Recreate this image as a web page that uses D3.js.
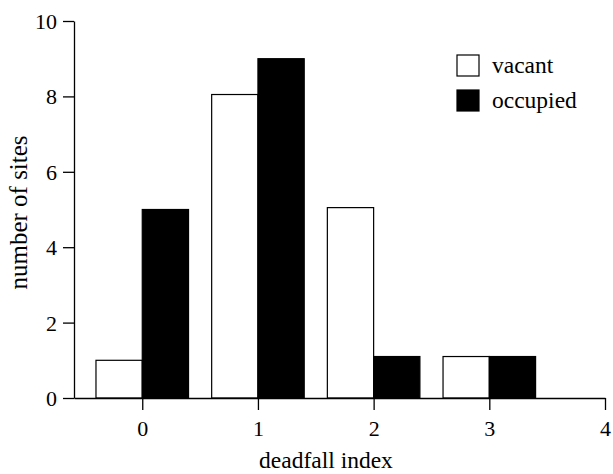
<!DOCTYPE html>
<html><head><meta charset="utf-8">
<script src="https://cdn.jsdelivr.net/npm/d3@7"></script>
<style>body{margin:0;background:#fff}svg{display:block}</style>
</head><body>
<script>
const categories = [0, 1, 2, 3];
const vacant = [1, 8.05, 5.05, 1.1];
const occupied = [5, 9, 1.1, 1.1];
const seriesNames = ["vacant", "occupied"];
const seriesFills = ["#fff", "#000"];
const yTicks = [0, 2, 4, 6, 8, 10];
const xTicks = [0, 1, 2, 3, 4];

const FONT = "'Liberation Serif', 'Times New Roman', Times, serif";
const W = 613, H = 474;
const svg = d3.select("body").append("svg").attr("width", W).attr("height", H);
const x = d3.scaleLinear().domain([-0.59, 4]).range([74, 605]);
const y = d3.scaleLinear().domain([0, 10]).range([398, 21]);
const bw = 0.4;

const series = [vacant, occupied];
series.forEach((vals, si) => {
  svg.append("g").selectAll("rect").data(categories).join("rect")
    .attr("x", (d) => si === 0 ? x(d - bw) : x(d))
    .attr("width", x(bw) - x(0))
    .attr("y", (d, i) => y(vals[i]))
    .attr("height", (d, i) => y(0) - y(vals[i]))
    .attr("fill", seriesFills[si]).attr("stroke", "#000").attr("stroke-width", 1.2);
});

const fs = 22;
const xa = svg.append("g").attr("transform", `translate(0,${y(0)})`)
  .call(d3.axisBottom(x).tickValues(xTicks).tickFormat(d3.format("d")).tickSize(12).tickSizeOuter(0).tickPadding(10));
const ya = svg.append("g").attr("transform", `translate(${x(-0.59)},0)`)
  .call(d3.axisLeft(y).tickValues(yTicks).tickFormat(d3.format("d")).tickSize(11).tickSizeOuter(0).tickPadding(6));
[xa, ya].forEach(a => {
  a.attr("font-family", FONT).attr("font-size", fs);
  a.selectAll("path,line").attr("stroke", "#000").attr("stroke-width", 1.3);
  a.selectAll("text").attr("fill", "#000");
});
ya.selectAll("text").attr("dy", "0.34em");

svg.append("text").attr("x", 326).attr("y", 468).attr("text-anchor", "middle")
  .attr("font-family", FONT).attr("font-size", 23.5).text("deadfall index");
svg.append("text").attr("transform", `translate(27,212.5) rotate(-90)`)
  .attr("text-anchor", "middle").attr("font-family", FONT).attr("font-size", 25).text("number of sites");

const lg = svg.append("g");
seriesNames.forEach((n, i) => {
  lg.append("rect").attr("x", 457).attr("y", 55 + i * 35).attr("width", 22).attr("height", 21)
    .attr("fill", seriesFills[i]).attr("stroke", "#000").attr("stroke-width", 1.2);
  lg.append("text").attr("x", 492).attr("y", 73 + i * 35).attr("font-family", FONT).attr("font-size", 23.5).text(n);
});
</script>
</body></html>
